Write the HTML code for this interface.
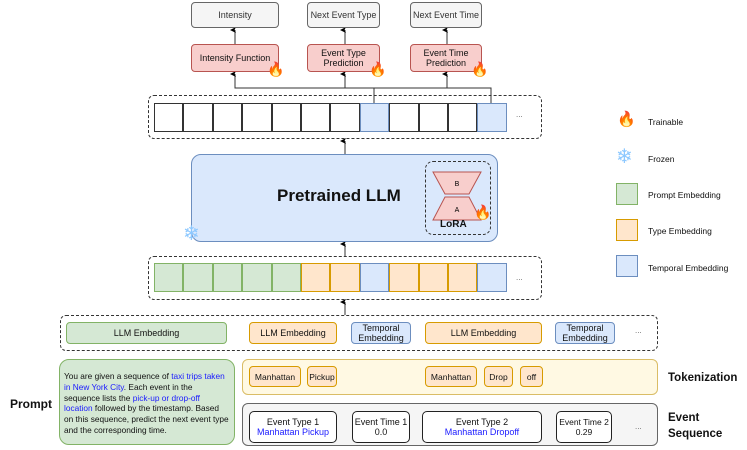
<!DOCTYPE html>
<html><head><meta charset="utf-8"><style>
body{margin:0;width:747px;height:450px;background:#fff;font-family:"Liberation Sans",sans-serif;position:relative;overflow:hidden;color:#111}
div{box-sizing:border-box}
.a{position:absolute}
.bx{position:absolute;display:flex;flex-direction:column;align-items:center;justify-content:center;text-align:center;font-size:9px;line-height:10px}
.gray{background:#f5f5f5;border:1px solid #666;border-radius:4px;color:#333}
.red{background:#f8cecc;border:1px solid #b85450;border-radius:4px}
.dash{position:absolute;border:1px dashed #333;border-radius:6px}
.cell{position:absolute;height:29px;width:29.4px;border:1px solid #333}
.g{background:#d5e8d4;border-color:#82b366}.o{background:#ffe6cc;border-color:#d79b00}.b{background:#dae8fc;border-color:#6c8ebf}
.blue{color:#1a1aff}
.flame{position:absolute;font-size:14px;line-height:14px}
.snow{position:absolute;color:#8cc8ff;font-size:20px;line-height:20px}
</style></head><body>
<svg class="a" style="left:0;top:0" width="747" height="450">
<defs><marker id="m" markerWidth="6" markerHeight="6" refX="3" refY="5" orient="auto-start-reverse" markerUnits="userSpaceOnUse"><path d="M0,6 L3,0 L6,6 L3,4.5z" fill="#000"/></marker></defs>
<g stroke="#333" stroke-width="1" fill="none">
<path d="M374,103 V88 H235 V74" marker-end="url(#m)"/>
<path d="M345,88 V74" marker-end="url(#m)"/>
<path d="M491,103 V88 H447 V74" marker-end="url(#m)"/>
<path d="M374,88 H447"/>
<path d="M235,44 V30" marker-end="url(#m)"/>
<path d="M345,44 V30" marker-end="url(#m)"/>
<path d="M447,44 V30" marker-end="url(#m)"/>
<path d="M345,154 V141" marker-end="url(#m)"/>
<path d="M345,256 V244" marker-end="url(#m)"/>
<path d="M345,315 V302" marker-end="url(#m)"/>
</g>
</svg>
<div class="bx gray" style="left:191px;top:2px;width:88px;height:26px">Intensity</div>
<div class="bx gray" style="left:307px;top:2px;width:73px;height:26px">Next Event Type</div>
<div class="bx gray" style="left:410px;top:2px;width:72px;height:26px">Next Event Time</div>
<div class="bx red" style="left:191px;top:44px;width:88px;height:28px">Intensity Function</div>
<div class="bx red" style="left:307px;top:44px;width:73px;height:28px">Event Type<br>Prediction</div>
<div class="bx red" style="left:410px;top:44px;width:72px;height:28px">Event Time<br>Prediction</div>
<div class="flame" style="left:267px;top:62px">🔥</div>
<div class="flame" style="left:369px;top:62px">🔥</div>
<div class="flame" style="left:471px;top:62px">🔥</div>

<div class="dash" style="left:148px;top:95px;width:394px;height:44px"></div>
<div class="cell" style="left:154px;top:103px"></div><div class="cell" style="left:183.4px;top:103px"></div><div class="cell" style="left:212.8px;top:103px"></div><div class="cell" style="left:242.2px;top:103px"></div><div class="cell" style="left:271.6px;top:103px"></div><div class="cell" style="left:301px;top:103px"></div><div class="cell" style="left:330.4px;top:103px"></div><div class="cell b" style="left:359.8px;top:103px"></div><div class="cell" style="left:389.2px;top:103px"></div><div class="cell" style="left:418.6px;top:103px"></div><div class="cell" style="left:448px;top:103px"></div><div class="cell b" style="left:477.4px;top:103px"></div>
<div class="a" style="left:516px;top:110px;font-size:8px;color:#666">...</div>

<div class="a" style="left:191px;top:154px;width:307px;height:88px;background:#dae8fc;border:1px solid #6c8ebf;border-radius:10px"></div>
<div class="a" style="left:277px;top:186px;font-size:17px;font-weight:bold">Pretrained LLM</div>
<div class="dash" style="left:425px;top:161px;width:66px;height:74px;border-radius:8px"></div>
<svg class="a" style="left:425px;top:161px" width="66" height="74"><path d="M8,11 H56 L44,33 H20z" fill="#f8cecc" stroke="#b85450"/><path d="M20,36 H44 L56,59 H8z" fill="#f8cecc" stroke="#b85450"/><text x="32" y="25" font-size="7" text-anchor="middle" font-family="Liberation Sans">B</text><text x="32" y="51" font-size="7" text-anchor="middle" font-family="Liberation Sans">A</text></svg>
<div class="a" style="left:440px;top:219px;font-size:10px;font-weight:bold">LoRA</div>
<div class="flame" style="left:474px;top:205px">🔥</div>
<div class="snow" style="left:183px;top:224px">❄</div>

<div class="dash" style="left:148px;top:256px;width:394px;height:44px"></div>
<div class="cell g" style="left:154px;top:263px"></div><div class="cell g" style="left:183.4px;top:263px"></div><div class="cell g" style="left:212.8px;top:263px"></div><div class="cell g" style="left:242.2px;top:263px"></div><div class="cell g" style="left:271.6px;top:263px"></div><div class="cell o" style="left:301px;top:263px"></div><div class="cell o" style="left:330.4px;top:263px"></div><div class="cell b" style="left:359.8px;top:263px"></div><div class="cell o" style="left:389.2px;top:263px"></div><div class="cell o" style="left:418.6px;top:263px"></div><div class="cell o" style="left:448px;top:263px"></div><div class="cell b" style="left:477.4px;top:263px"></div>
<div class="a" style="left:516px;top:273px;font-size:8px;color:#666">...</div>

<div class="dash" style="left:60px;top:315px;width:598px;height:36px"></div>
<div class="bx g" style="left:66px;top:322px;width:161px;height:22px;border:1px solid #82b366;border-radius:4px">LLM Embedding</div>
<div class="bx o" style="left:249px;top:322px;width:88px;height:22px;border:1px solid #d79b00;border-radius:4px">LLM Embedding</div>
<div class="bx b" style="left:351px;top:322px;width:60px;height:22px;border:1px solid #6c8ebf;border-radius:4px">Temporal<br>Embedding</div>
<div class="bx o" style="left:425px;top:322px;width:117px;height:22px;border:1px solid #d79b00;border-radius:4px">LLM Embedding</div>
<div class="bx b" style="left:555px;top:322px;width:60px;height:22px;border:1px solid #6c8ebf;border-radius:4px">Temporal<br>Embedding</div>
<div class="a" style="left:635px;top:326px;font-size:8px;color:#666">...</div>

<div class="a" style="left:59px;top:359px;width:176px;height:86px;background:#d5e8d4;border:1px solid #82b366;border-radius:10px;padding:11px 4px 0 4px;font-size:8.3px;line-height:10.8px">You are given a sequence of <span class="blue">taxi trips taken in New York City</span>. Each event in the sequence lists the <span class="blue">pick-up or drop-off location</span> followed by the timestamp. Based on this sequence, predict the next event type and the corresponding time.</div>
<div class="a" style="left:10px;top:397px;font-size:12px;font-weight:bold">Prompt</div>

<div class="a" style="left:242px;top:359px;width:416px;height:36px;background:#fff9e0;border:1px solid #d6b656;border-radius:6px;opacity:.9"></div>
<div class="bx o" style="left:249px;top:366px;width:52px;height:21px;border:1px solid #d79b00;border-radius:4px;font-size:8.5px">Manhattan</div>
<div class="bx o" style="left:307px;top:366px;width:30px;height:21px;border:1px solid #d79b00;border-radius:4px;font-size:8.5px">Pickup</div>
<div class="bx o" style="left:425px;top:366px;width:52px;height:21px;border:1px solid #d79b00;border-radius:4px;font-size:8.5px">Manhattan</div>
<div class="bx o" style="left:484px;top:366px;width:29px;height:21px;border:1px solid #d79b00;border-radius:4px;font-size:8.5px">Drop</div>
<div class="bx o" style="left:520px;top:366px;width:23px;height:21px;border:1px solid #d79b00;border-radius:4px;font-size:8.5px">off</div>
<div class="a" style="left:668px;top:372px;font-size:11.5px;font-weight:bold">Tokenization</div>

<div class="a" style="left:242px;top:403px;width:416px;height:43px;background:#f5f5f5;border:1px solid #666;border-radius:6px"></div>
<div class="bx" style="left:249px;top:411px;width:88px;height:32px;background:#fff;border:1px solid #222;border-radius:5px"><span>Event Type 1</span><span class="blue">Manhattan Pickup</span></div>
<div class="bx" style="left:352px;top:411px;width:58px;height:32px;background:#fff;border:1px solid #222;border-radius:5px"><span>Event Time 1</span><span>0.0</span></div>
<div class="bx" style="left:422px;top:411px;width:120px;height:32px;background:#fff;border:1px solid #222;border-radius:5px"><span>Event Type 2</span><span class="blue">Manhattan Dropoff</span></div>
<div class="bx" style="left:556px;top:411px;width:56px;height:32px;background:#fff;border:1px solid #222;border-radius:5px;font-size:8.5px"><span>Event Time 2</span><span>0.29</span></div>
<div class="a" style="left:635px;top:422px;font-size:8px;color:#666">...</div>
<div class="a" style="left:668px;top:410px;font-size:11.5px;font-weight:bold;line-height:16px">Event<br>Sequence</div>

<div class="flame" style="left:617px;top:113px;font-size:15px">🔥</div>
<div class="a" style="left:648px;top:117px;font-size:8.5px">Trainable</div>
<div class="snow" style="left:616px;top:147px">❄</div>
<div class="a" style="left:648px;top:154px;font-size:8.5px">Frozen</div>
<div class="a g" style="left:616px;top:183px;width:22px;height:22px;border:1px solid #82b366"></div>
<div class="a" style="left:648px;top:190px;font-size:8.5px">Prompt Embedding</div>
<div class="a o" style="left:616px;top:219px;width:22px;height:22px;border:1px solid #d79b00"></div>
<div class="a" style="left:648px;top:226px;font-size:8.5px">Type Embedding</div>
<div class="a b" style="left:616px;top:255px;width:22px;height:22px;border:1px solid #6c8ebf"></div>
<div class="a" style="left:648px;top:263px;font-size:8.5px">Temporal Embedding</div>
</body></html>
